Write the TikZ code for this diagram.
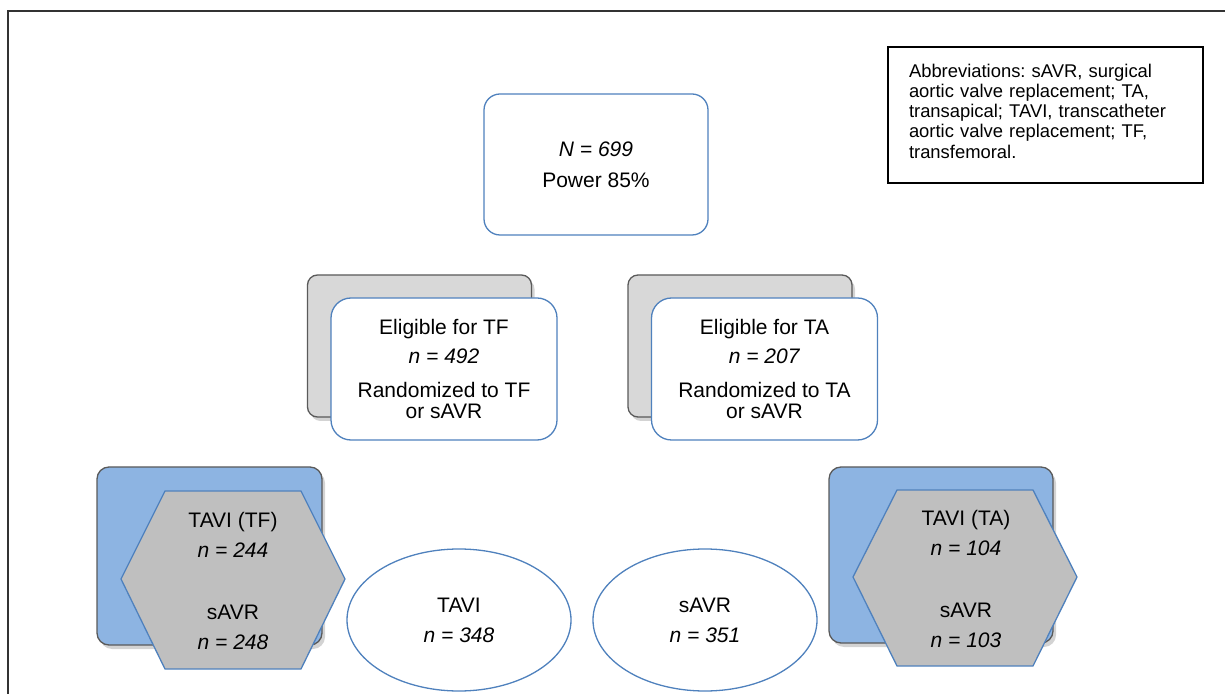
\documentclass[tikz,border=0pt]{standalone}
\usepackage{fontspec}
\setmainfont{Liberation Sans}
\frenchspacing
\usetikzlibrary{shapes.geometric,shadows}
\definecolor{blueline}{RGB}{79,129,189}
\definecolor{bluefill}{RGB}{141,180,226}
\definecolor{backfill}{RGB}{216,216,216}
\definecolor{hexfill}{RGB}{191,191,191}
\definecolor{darkedge}{RGB}{90,90,90}
\begin{document}
\begin{tikzpicture}[x=0.5pt,y=-0.5pt,
  every node/.style={inner sep=0pt,outer sep=0pt,font=\fontsize{10.5}{10.3}\selectfont,align=center},
  mainbox/.style={draw=blueline,line width=0.65pt,fill=white,rounded corners=8pt},
  backbox/.style={draw=darkedge,line width=0.65pt,fill=backfill,rounded corners=5pt,
    drop shadow={opacity=0.35,shadow xshift=1.5pt,shadow yshift=-2pt}},
  bluebox/.style={draw=darkedge,line width=0.65pt,fill=bluefill,rounded corners=6pt,
    drop shadow={opacity=0.35,shadow xshift=1.5pt,shadow yshift=-2pt}},
  hexa/.style={draw=blueline,line width=0.65pt,fill=hexfill},
  ovalnode/.style={ellipse,draw=blueline,line width=0.65pt,fill=white}]
\useasboundingbox (0,0) rectangle (1225,694);
% outer frame (only top and left visible)
\coordinate (fbl) at (8,694);
\coordinate (ftl) at (8,11);
\coordinate (ftr) at (1225,11);
\draw[line width=0.8pt,black!80] (fbl) -- (ftl) -- (ftr);

% abbreviations
\node[draw=black,line width=0.8pt,minimum width=157.5pt,minimum height=68pt] (abbr) at (1045.5,115) {};
\node[anchor=north west,align=left,text width=150pt,font=\fontsize{9.2}{10.1}\selectfont] (abbrtext) at (909,64)
  {Abbreviations: sAVR, surgical\\aortic valve replacement; TA,\\transapical; TAVI, transcatheter\\aortic valve replacement; TF,\\transfemoral.};

% top box
\node[mainbox,minimum width=112pt,minimum height=70.5pt] (top) at (596,164.5)
  {\textit{N = 699}\\[5pt]Power 85\%};

% eligible TF
\node[backbox,minimum width=112pt,minimum height=71pt] (tfback) at (419.5,346) {};
\node[mainbox,rounded corners=10pt,minimum width=113pt,minimum height=71pt] (tf) at (444,369)
  {Eligible for TF\\[4pt]\textit{n = 492}\\[6.7pt]Randomized to TF\\or sAVR};

% eligible TA
\node[backbox,minimum width=112pt,minimum height=71pt] (taback) at (740,346) {};
\node[mainbox,rounded corners=10pt,minimum width=113pt,minimum height=71pt] (ta) at (764.5,369)
  {Eligible for TA\\[4pt]\textit{n = 207}\\[6.7pt]Randomized to TA\\or sAVR};

% left blue box + hexagon
\node[bluebox,minimum width=112.5pt,minimum height=89pt] (tfblue) at (209.5,556) {};
\coordinate (lh1) at (165,491);
\coordinate (lh2) at (301,491);
\coordinate (lh3) at (345,579);
\coordinate (lh4) at (301,669);
\coordinate (lh5) at (165,669);
\coordinate (lh6) at (121,579);
\draw[hexa] (lh1) -- (lh2) -- (lh3) -- (lh4) -- (lh5) -- (lh6) -- cycle;
\node (tfhex) at (233,581)
  {TAVI (TF)\\[4.7pt]\textit{n = 244}\\[20.9pt]sAVR\\[4.9pt]\textit{n = 248}};

% right blue box + hexagon
\node[bluebox,minimum width=112pt,minimum height=88pt] (tablue) at (941,555) {};
\coordinate (rh1) at (897,490);
\coordinate (rh2) at (1033,490);
\coordinate (rh3) at (1077,577);
\coordinate (rh4) at (1033,666);
\coordinate (rh5) at (897,666);
\coordinate (rh6) at (853,577);
\draw[hexa] (rh1) -- (rh2) -- (rh3) -- (rh4) -- (rh5) -- (rh6) -- cycle;
\node (tahex) at (966,579)
  {TAVI (TA)\\[4.7pt]\textit{n = 104}\\[20.9pt]sAVR\\[4.9pt]\textit{n = 103}};

% ellipses
\node[ovalnode,minimum width=112pt,minimum height=71pt] (tavi) at (459,620)
  {TAVI\\[4.7pt]\textit{n = 348}};
\node[ovalnode,minimum width=112pt,minimum height=71pt] (savr) at (705,620)
  {sAVR\\[4.7pt]\textit{n = 351}};
\end{tikzpicture}
\end{document}
